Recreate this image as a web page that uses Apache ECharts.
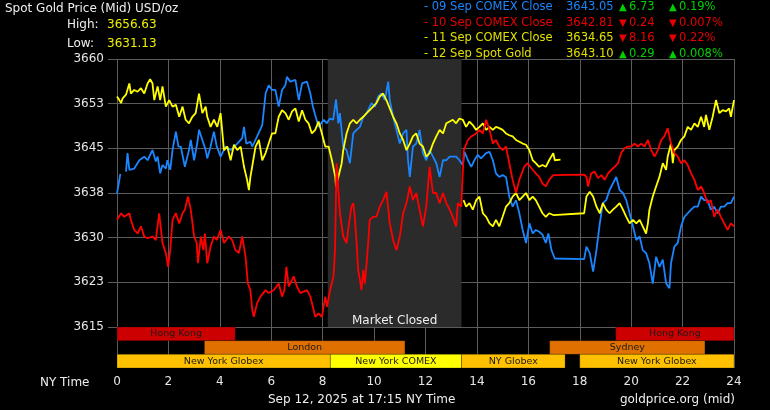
<!DOCTYPE html>
<html>
<head>
<meta charset="utf-8">
<script src="https://cdn.jsdelivr.net/npm/echarts@6/dist/echarts.min.js"></script>
<style>
  html, body { margin: 0; padding: 0; background: #000; }
  #chart { width: 770px; height: 410px; }
</style>
</head>
<body>
<div id="chart"></div>
<script>
// hours (NY time) / price pairs
const sep09 = [[0,3637.4],[0.13,3640.7],[0.24,'-'],[0.35,3641.1],[0.41,3644.2],[0.48,3641.4],[0.67,3641.6],[0.87,3643.0],[1.06,3643.6],[1.19,3643.0],[1.38,3644.7],[1.51,3642.8],[1.58,3643.6],[1.68,3640.8],[1.77,3642.2],[1.9,3641.6],[1.96,3643.0],[2.07,3641.4],[2.16,3644.7],[2.29,3647.8],[2.39,3645.3],[2.48,3645.3],[2.64,3641.9],[2.8,3644.7],[2.87,3646.4],[3.0,3643.0],[3.13,3646.1],[3.19,3648.1],[3.32,3646.4],[3.45,3644.7],[3.51,3643.3],[3.64,3645.3],[3.77,3647.8],[3.88,3645.3],[4.03,3643.6],[4.22,3645.3],[4.42,3644.7],[4.68,3645.8],[4.87,3646.7],[4.94,3648.6],[5.03,3645.8],[5.19,3646.1],[5.26,3645.3],[5.45,3647.0],[5.65,3648.9],[5.78,3654.2],[5.9,3655.6],[6.03,3654.8],[6.16,3654.8],[6.29,3652.0],[6.42,3654.8],[6.55,3655.6],[6.61,3657.0],[6.74,3656.2],[6.94,3656.5],[7.07,3653.1],[7.2,3655.9],[7.39,3656.2],[7.52,3654.2],[7.62,3652.0],[7.71,3650.6],[7.84,3648.6],[8.04,3649.8],[8.16,3649.2],[8.28,3650.0],[8.41,3649.8],[8.52,3653.2],[8.61,3649.2],[8.67,3650.9],[8.8,3645.3],[8.93,3644.7],[9.06,3642.5],[9.19,3647.5],[9.32,3648.1],[9.45,3648.6],[9.58,3650.3],[9.71,3650.9],[9.9,3652.6],[10.03,3652.0],[10.16,3653.7],[10.29,3654.2],[10.42,3653.1],[10.55,3656.2],[10.61,3653.1],[10.74,3650.3],[10.87,3648.1],[11.0,3645.8],[11.13,3647.5],[11.26,3648.1],[11.32,3643.0],[11.39,3640.2],[11.51,3645.3],[11.64,3645.8],[11.77,3648.1],[11.9,3644.2],[12.03,3643.0],[12.16,3644.7],[12.29,3643.6],[12.42,3642.5],[12.55,3640.2],[12.68,3643.0],[12.81,3643.0],[12.94,3643.6],[13.19,3643.6],[13.32,3643.0],[13.45,3642.2],[13.52,3644.4],[13.65,3643.0],[13.78,3641.9],[13.9,3643.0],[14.03,3643.9],[14.16,3643.3],[14.36,3644.2],[14.49,3644.4],[14.62,3643.0],[14.74,3640.8],[14.87,3640.2],[15.0,3640.5],[15.13,3640.2],[15.26,3636.9],[15.39,3635.2],[15.52,3636.3],[15.65,3634.1],[15.78,3631.3],[15.91,3629.1],[16.04,3632.4],[16.17,3630.7],[16.29,3631.3],[16.42,3631.0],[16.55,3630.5],[16.68,3629.1],[16.78,3630.7],[16.9,3627.9],[17.03,3626.5],[18.17,3626.4],[18.26,3628.5],[18.39,3627.4],[18.52,3624.3],[18.65,3627.9],[18.78,3632.4],[18.9,3635.8],[19.03,3636.3],[19.16,3638.0],[19.29,3639.1],[19.42,3640.2],[19.55,3638.0],[19.68,3637.5],[19.81,3636.3],[19.94,3634.1],[20.07,3631.9],[20.2,3629.6],[20.33,3630.2],[20.45,3627.9],[20.58,3627.4],[20.71,3625.7],[20.84,3622.3],[20.97,3626.8],[21.1,3625.1],[21.23,3626.3],[21.36,3622.3],[21.49,3621.5],[21.55,3625.7],[21.68,3628.5],[21.81,3629.1],[21.94,3631.9],[22.07,3633.5],[22.2,3634.1],[22.33,3634.7],[22.46,3635.2],[22.59,3635.2],[22.72,3636.9],[22.84,3636.3],[22.97,3636.3],[23.1,3634.7],[23.23,3635.2],[23.36,3634.1],[23.49,3635.2],[23.62,3635.2],[23.75,3635.8],[23.88,3635.8],[24,3636.9]];

const sep10 = [[0,3633.0],[0.16,3634.1],[0.28,3633.5],[0.48,3634.1],[0.54,3633.0],[0.67,3631.3],[0.8,3630.7],[0.93,3631.9],[1.06,3630.2],[1.19,3629.9],[1.38,3630.2],[1.51,3629.6],[1.64,3634.1],[1.77,3629.1],[1.9,3627.4],[1.99,3625.1],[2.07,3627.9],[2.16,3633.0],[2.29,3634.1],[2.42,3632.4],[2.55,3634.1],[2.64,3634.7],[2.76,3636.9],[2.87,3634.7],[3.0,3630.2],[3.1,3629.1],[3.15,3625.7],[3.26,3630.2],[3.36,3627.9],[3.42,3630.7],[3.51,3625.7],[3.64,3628.5],[3.77,3630.2],[3.88,3629.6],[4.03,3631.3],[4.16,3629.1],[4.35,3630.2],[4.48,3629.6],[4.61,3627.9],[4.74,3627.4],[4.87,3630.2],[5.0,3626.8],[5.09,3622.3],[5.19,3621.2],[5.26,3617.9],[5.32,3616.7],[5.45,3619.0],[5.58,3620.1],[5.78,3621.2],[5.9,3620.7],[6.1,3621.2],[6.29,3622.3],[6.42,3620.1],[6.51,3621.2],[6.59,3625.1],[6.68,3621.8],[6.81,3622.9],[6.87,3623.5],[7.0,3621.8],[7.13,3620.7],[7.39,3621.2],[7.52,3620.1],[7.62,3618.4],[7.71,3616.7],[7.84,3617.3],[7.97,3616.7],[8.1,3620.1],[8.17,3618.4],[8.29,3621.2],[8.42,3623.5],[8.48,3627.9],[8.54,3642.5],[8.61,3638.0],[8.67,3634.1],[8.8,3630.2],[8.93,3629.1],[8.99,3631.3],[9.12,3635.2],[9.19,3635.8],[9.25,3633.5],[9.32,3629.1],[9.38,3624.6],[9.45,3622.9],[9.51,3621.2],[9.58,3624.6],[9.64,3622.3],[9.71,3625.7],[9.77,3629.1],[9.83,3633.0],[9.96,3633.5],[10.09,3633.5],[10.22,3635.2],[10.35,3636.3],[10.48,3637.7],[10.61,3632.4],[10.74,3629.6],[10.87,3627.9],[11.0,3630.2],[11.13,3634.1],[11.26,3635.8],[11.39,3638.6],[11.51,3636.3],[11.64,3637.5],[11.77,3634.7],[11.9,3631.9],[12.03,3635.2],[12.16,3641.9],[12.29,3637.5],[12.42,3637.5],[12.55,3635.8],[12.68,3637.5],[12.81,3635.8],[12.94,3634.7],[13.06,3633.5],[13.19,3631.9],[13.26,3635.8],[13.39,3635.2],[13.46,3635.0],[13.49,3644.7],[13.65,3646.4],[13.78,3647.0],[13.97,3647.5],[14.1,3648.1],[14.23,3647.5],[14.36,3649.8],[14.49,3648.1],[14.62,3645.8],[14.74,3646.4],[14.87,3645.3],[15.0,3644.7],[15.13,3645.3],[15.26,3642.5],[15.39,3639.7],[15.52,3637.5],[15.65,3639.7],[15.84,3641.9],[15.97,3642.5],[16.17,3641.4],[16.29,3640.8],[16.42,3640.2],[16.55,3639.1],[16.68,3638.6],[16.81,3639.7],[16.97,3640.5],[18.17,3640.6],[18.26,3640.2],[18.32,3638.6],[18.45,3640.8],[18.58,3641.1],[18.71,3640.0],[18.84,3640.5],[18.97,3639.7],[19.1,3640.8],[19.23,3641.4],[19.36,3641.9],[19.49,3642.5],[19.61,3644.2],[19.74,3645.0],[19.87,3645.3],[20.0,3645.3],[20.13,3645.8],[20.26,3645.3],[20.39,3645.8],[20.52,3645.3],[20.65,3646.4],[20.78,3644.7],[20.91,3643.6],[21.04,3644.7],[21.17,3646.4],[21.29,3647.0],[21.42,3648.4],[21.55,3645.8],[21.68,3644.2],[21.81,3643.6],[21.94,3642.5],[22.07,3643.0],[22.2,3642.2],[22.33,3640.8],[22.46,3639.7],[22.59,3638.0],[22.72,3638.6],[22.84,3637.5],[22.97,3635.8],[23.1,3636.3],[23.23,3633.5],[23.36,3634.7],[23.49,3633.5],[23.62,3632.4],[23.75,3631.3],[23.88,3632.4],[24,3631.9]];

const sep11 = [[13.48,3636.3],[13.58,3635.2],[13.71,3635.8],[13.84,3634.7],[13.97,3636.3],[14.1,3636.9],[14.23,3634.1],[14.36,3633.5],[14.49,3632.4],[14.62,3631.9],[14.74,3633.0],[14.87,3631.9],[15.0,3633.5],[15.13,3635.2],[15.26,3635.8],[15.39,3636.9],[15.52,3637.5],[15.65,3636.3],[15.78,3636.9],[15.91,3637.5],[16.04,3636.3],[16.17,3636.9],[16.29,3636.3],[16.42,3635.2],[16.55,3634.1],[16.68,3633.5],[16.81,3634.1],[16.97,3633.8],[18.17,3634.1],[18.26,3636.9],[18.39,3637.7],[18.52,3636.9],[18.65,3635.2],[18.78,3634.1],[18.9,3635.8],[19.03,3634.7],[19.16,3634.1],[19.29,3634.7],[19.42,3635.2],[19.55,3635.8],[19.68,3634.7],[19.81,3633.5],[19.94,3632.4],[20.07,3633.0],[20.2,3632.4],[20.33,3633.0],[20.45,3631.9],[20.58,3630.7],[20.65,3632.4],[20.71,3634.7],[20.84,3636.9],[20.97,3638.6],[21.1,3640.2],[21.23,3642.5],[21.36,3641.4],[21.42,3643.6],[21.55,3645.8],[21.62,3642.5],[21.68,3644.7],[21.81,3645.3],[21.94,3646.4],[22.07,3647.0],[22.2,3648.6],[22.33,3648.1],[22.46,3649.2],[22.59,3648.6],[22.72,3650.3],[22.84,3648.6],[22.91,3650.6],[23.04,3648.1],[23.17,3650.3],[23.3,3653.1],[23.43,3650.9],[23.56,3651.4],[23.69,3651.2],[23.81,3651.7],[23.88,3650.3],[24,3653.1]];

const sep12 = [[0,3653.7],[0.09,3653.1],[0.16,3652.6],[0.22,3653.4],[0.35,3654.0],[0.48,3655.9],[0.54,3654.2],[0.67,3654.8],[0.8,3654.5],[0.93,3655.1],[1.06,3654.2],[1.19,3655.9],[1.29,3656.6],[1.38,3655.9],[1.45,3653.1],[1.58,3655.4],[1.68,3653.1],[1.77,3655.4],[1.9,3652.0],[2.03,3653.1],[2.16,3652.0],[2.29,3652.3],[2.42,3650.3],[2.55,3652.0],[2.67,3649.8],[2.8,3649.2],[2.93,3650.3],[3.06,3650.9],[3.19,3654.2],[3.32,3650.9],[3.45,3652.0],[3.51,3650.3],[3.64,3648.6],[3.77,3649.8],[3.9,3648.6],[4.03,3650.9],[4.1,3650.9],[4.16,3644.7],[4.29,3645.3],[4.42,3643.0],[4.55,3645.6],[4.68,3644.7],[4.81,3645.3],[4.94,3641.9],[5.06,3639.7],[5.13,3638.0],[5.19,3640.2],[5.3,3643.0],[5.39,3645.3],[5.52,3646.4],[5.65,3643.0],[5.78,3644.2],[5.9,3645.8],[6.03,3647.5],[6.16,3647.5],[6.29,3650.3],[6.42,3651.4],[6.55,3650.9],[6.68,3649.8],[6.81,3651.2],[6.94,3651.7],[7.07,3649.5],[7.2,3651.4],[7.33,3649.8],[7.45,3649.2],[7.58,3647.5],[7.71,3648.1],[7.84,3649.5],[7.97,3647.5],[8.1,3645.3],[8.23,3645.3],[8.36,3643.0],[8.49,3640.2],[8.52,3638.6],[8.61,3640.2],[8.74,3642.5],[8.8,3644.7],[8.93,3647.5],[9.06,3649.2],[9.19,3649.8],[9.32,3649.2],[9.45,3649.8],[9.58,3650.3],[9.71,3650.9],[9.83,3651.4],[9.96,3652.0],[10.09,3652.6],[10.22,3653.7],[10.35,3654.2],[10.48,3653.1],[10.61,3651.7],[10.74,3650.3],[10.87,3649.2],[11.0,3647.5],[11.13,3646.4],[11.26,3644.7],[11.39,3645.8],[11.51,3647.0],[11.64,3647.5],[11.77,3645.8],[11.9,3645.3],[12.03,3643.6],[12.16,3644.2],[12.29,3645.8],[12.42,3647.0],[12.55,3648.1],[12.68,3647.5],[12.81,3649.2],[12.94,3649.5],[13.06,3649.8],[13.19,3649.2],[13.32,3650.0],[13.45,3649.8],[13.58,3648.6],[13.71,3649.5],[13.84,3648.9],[13.97,3648.1],[14.1,3648.6],[14.23,3649.2],[14.36,3648.1],[14.49,3648.6],[14.62,3648.1],[14.74,3648.6],[14.87,3648.4],[15.0,3648.1],[15.13,3647.5],[15.26,3647.2],[15.39,3647.0],[15.52,3646.4],[15.65,3646.1],[15.78,3645.8],[15.91,3645.6],[16.04,3644.7],[16.17,3643.0],[16.29,3642.5],[16.42,3641.9],[16.55,3642.2],[16.68,3641.9],[16.81,3643.0],[16.97,3644.2],[17.03,3643.0],[17.25,3643.1]];

// session bars: row 0 = top
const sessions = [
  { name: 'Hong Kong', row: 0, start: 0, end: 4.6 },
  { name: 'Hong Kong', row: 0, start: 19.4, end: 24 },
  { name: 'London', row: 1, start: 3.4, end: 11.2 },
  { name: 'Sydney', row: 1, start: 16.83, end: 22.87 },
  { name: 'New York Globex', row: 2, start: 0, end: 8.3 },
  { name: 'New York COMEX', row: 2, start: 8.3, end: 13.4 },
  { name: 'NY Globex', row: 2, start: 13.4, end: 17.43 },
  { name: 'New York Globex', row: 2, start: 18.0, end: 24 }
];
const closedFrom = 8.2, closedTo = 13.4;

const legendNames = ['09 Sep COMEX Close', '10 Sep COMEX Close', '11 Sep COMEX Close', '12 Sep Spot Gold'];
const legendPrices = ['3643.05', '3642.81', '3634.65', '3643.10'];
const legendChanges = ['6.73', '0.24', '8.16', '0.29'];
const legendPcts = ['0.19%', '0.007%', '0.22%', '0.008%'];
const legendUp = [true, false, false, true];
const dayHigh = '3656.63', dayLow = '3631.13';

const FONT = '"DejaVu Sans", sans-serif';
const GRIDC = '#5c5c5c';
const lineColors = ['#1a86ff', '#ff0000', '#ffff00', '#ffff00'];
const textColors = ['#1a86ff', '#e80000', '#e0e000', '#e0e000'];
const sessionColor = {
  'Hong Kong': '#cc0000', 'London': '#e07000', 'Sydney': '#e07000',
  'New York Globex': '#ffc000', 'NY Globex': '#ffc000', 'New York COMEX': '#ffff00'
};

function txt(x, y, text, fill, size, align) {
  return {
    type: 'text', x: x, y: y, silent: true,
    style: { text: text, fill: fill, font: size + 'px ' + FONT, textAlign: align || 'left', textVerticalAlign: 'middle' }
  };
}

const graphics = [
  txt(5, 9, 'Spot Gold Price (Mid) USD/oz', '#eeeeee', 12),
  txt(67, 25, 'High:', '#eeeeee', 12),
  txt(107, 25, dayHigh, '#f0f000', 12),
  txt(67, 44, 'Low:', '#eeeeee', 12),
  txt(107, 44, dayLow, '#f0f000', 12),
  txt(40, 383, 'NY Time', '#eeeeee', 12),
  txt(268, 400, 'Sep 12, 2025 at 17:15 NY Time', '#eeeeee', 12),
  txt(735, 400, 'goldprice.org (mid)', '#eeeeee', 12, 'right')
];
const rowY = [7, 23, 38, 54];
legendNames.forEach((n, i) => {
  const c = textColors[i];
  const ac = legendUp[i] ? '#00d000' : '#e80000';
  graphics.push(txt(424, rowY[i], '- ' + n, c, 11.5));
  graphics.push(txt(566, rowY[i], legendPrices[i], c, 11.5));
  graphics.push(txt(619, rowY[i], legendUp[i] ? '\u25B2' : '\u25BC', ac, 10));
  graphics.push(txt(629, rowY[i], legendChanges[i], ac, 11.5));
  graphics.push(txt(669, rowY[i], legendUp[i] ? '\u25B2' : '\u25BC', ac, 10));
  graphics.push(txt(679, rowY[i], legendPcts[i], ac, 11.5));
});

function lineSeries(name, data, color) {
  return {
    name: name, type: 'line', xAxisIndex: 0, yAxisIndex: 0,
    data: data, showSymbol: false, connectNulls: false,
    lineStyle: { color: color, width: 1.8 }, itemStyle: { color: color },
    z: 3
  };
}

const chart = echarts.init(document.getElementById('chart'));
chart.setOption({
  backgroundColor: '#000',
  animation: false,
  graphic: graphics,
  grid: [
    { left: 117, right: 36, top: 59, height: 268 },
    { left: 117, right: 36, top: 327, height: 41 }
  ],
  xAxis: [
    {
      type: 'value', gridIndex: 0, min: 0, max: 24, interval: 2,
      axisLine: { show: false }, axisTick: { show: false }, axisLabel: { show: false },
      splitLine: { show: true, lineStyle: { color: GRIDC, width: 1 } }
    },
    {
      type: 'value', gridIndex: 1, min: 0, max: 24, interval: 2,
      axisLine: { show: false },
      axisTick: { show: true, length: 4, lineStyle: { color: GRIDC } },
      axisLabel: { color: '#e6e6e6', fontSize: 12, fontFamily: FONT, margin: 8 },
      splitLine: { show: true, lineStyle: { color: GRIDC, width: 1 } }
    }
  ],
  yAxis: [
    {
      type: 'value', gridIndex: 0, min: 3615, max: 3660, interval: 7.5,
      axisLine: { show: false },
      axisTick: { show: true, length: 9, lineStyle: { color: GRIDC } },
      axisLabel: { color: '#e6e6e6', fontSize: 12, fontFamily: FONT, margin: 13, formatter: v => Math.round(v) },
      splitLine: { show: true, lineStyle: { color: GRIDC, width: 1 } }
    },
    {
      type: 'value', gridIndex: 1, min: 0, max: 3, inverse: true,
      axisLine: { show: false }, axisTick: { show: false }, axisLabel: { show: false },
      splitLine: { show: false }
    }
  ],
  series: [
    {
      name: 'closed', type: 'line', xAxisIndex: 0, yAxisIndex: 0, data: [], z: -1,
      markArea: {
        silent: true,
        itemStyle: { color: '#2b2b2b' },
        label: { show: true, position: 'insideBottom', color: '#eeeeee', fontSize: 12, fontFamily: FONT, distance: 0 },
        data: [[{ name: 'Market Closed', xAxis: closedFrom }, { xAxis: closedTo }]]
      }
    },
    lineSeries(legendNames[0], sep09, lineColors[0]),
    lineSeries(legendNames[2], sep11, lineColors[2]),
    lineSeries(legendNames[3], sep12, lineColors[3]),
    lineSeries(legendNames[1], sep10, lineColors[1]),
    {
      name: 'sessions', type: 'custom', xAxisIndex: 1, yAxisIndex: 1,
      data: sessions.map(s => [s.start, s.end, s.row]),
      z: 3,
      renderItem: function (params, api) {
        const s = sessions[params.dataIndex];
        const p0 = api.coord([api.value(0), api.value(2)]);
        const p1 = api.coord([api.value(1), api.value(2) + 1]);
        const col = sessionColor[s.name];
        return {
          type: 'group',
          children: [
            {
              type: 'rect',
              shape: { x: p0[0], y: p0[1], width: p1[0] - p0[0], height: p1[1] - p0[1] },
              style: { fill: col, stroke: 'rgba(0,0,0,0.25)', lineWidth: 1 }
            },
            {
              type: 'text',
              style: {
                text: s.name, x: (p0[0] + p1[0]) / 2, y: (p0[1] + p1[1]) / 2,
                textAlign: 'center', textVerticalAlign: 'middle',
                fill: '#1a1a1a', font: '9.5px ' + FONT
              }
            }
          ]
        };
      }
    }
  ]
});
</script>
</body>
</html>
